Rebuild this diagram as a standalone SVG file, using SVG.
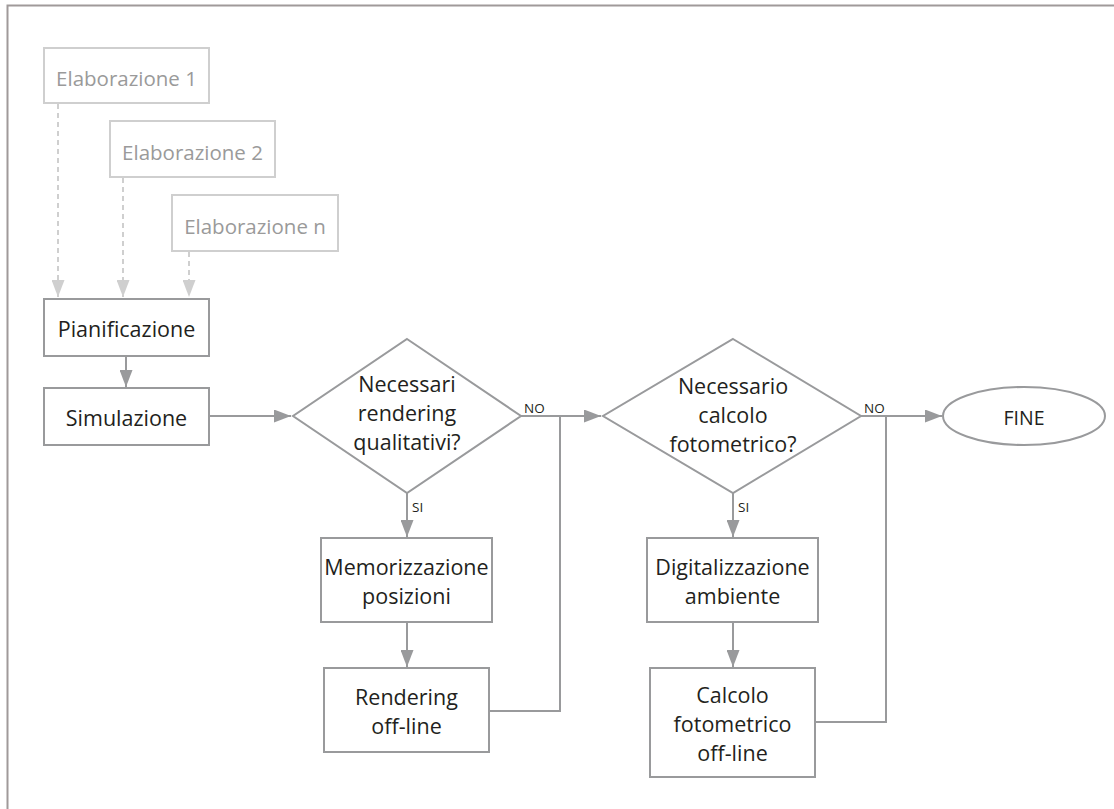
<svg xmlns="http://www.w3.org/2000/svg" width="1114" height="809" viewBox="0 0 1114 809">
<style>
.box{fill:#fff;stroke:#999a9c;stroke-width:2}
.lbox{fill:#fff;stroke:#cfcfcf;stroke-width:2}
.t{font-family:"Open Sans","Liberation Sans",sans-serif;font-size:21.5px;fill:#231f20;text-anchor:middle}
.lt{font-family:"Open Sans","Liberation Sans",sans-serif;font-size:20.5px;fill:#9a9a9a;text-anchor:middle}
.s{font-family:"Open Sans","Liberation Sans",sans-serif;font-size:13.5px;fill:#231f20}
.c{fill:none;stroke:#999a9c;stroke-width:2}
.d{fill:none;stroke:#cfcfcf;stroke-width:2;stroke-dasharray:5 4}
</style>
<defs>
<marker id="a" markerUnits="userSpaceOnUse" markerWidth="17" markerHeight="13" refX="17" refY="6.5" orient="auto"><path d="M0,0 L17,6.5 L0,13 z" fill="#999a9c"/></marker>
<marker id="la" markerUnits="userSpaceOnUse" markerWidth="17" markerHeight="13" refX="17" refY="6.5" orient="auto"><path d="M0,0 L17,6.5 L0,13 z" fill="#cfcfcf"/></marker>
</defs>
<rect width="1114" height="809" fill="#fff"/>
<path d="M7.5,809 V5.5 H1114" fill="none" stroke="#a09a9a" stroke-width="2"/>
<g id="connectors">
<line class="d" x1="58" y1="104" x2="58" y2="297" marker-end="url(#la)"/>
<line class="d" x1="123" y1="178" x2="123" y2="297" marker-end="url(#la)"/>
<line class="d" x1="189" y1="252" x2="189" y2="297" marker-end="url(#la)"/>
<line class="c" x1="126" y1="356" x2="126" y2="387" marker-end="url(#a)"/>
<line class="c" x1="209" y1="416" x2="291" y2="416" marker-end="url(#a)"/>
<line class="c" x1="521" y1="416" x2="601" y2="416" marker-end="url(#a)"/>
<path class="c" d="M489,711 H560 V416"/>
<line class="c" x1="407" y1="493" x2="407" y2="537" marker-end="url(#a)"/>
<line class="c" x1="407" y1="622" x2="407" y2="667" marker-end="url(#a)"/>
<line class="c" x1="861" y1="416" x2="942" y2="416" marker-end="url(#a)"/>
<path class="c" d="M815,722 H886 V416"/>
<line class="c" x1="733" y1="493" x2="733" y2="537" marker-end="url(#a)"/>
<line class="c" x1="733" y1="622" x2="733" y2="667" marker-end="url(#a)"/>
<text class="s" x="524" y="413">NO</text>
<text class="s" x="864" y="413">NO</text>
<text class="s" x="412" y="512">SI</text>
<text class="s" x="738" y="512">SI</text>
</g>
<g id="elab1"><rect class="lbox" x="44" y="48" width="165" height="55"/><text class="lt" x="126.5" y="86">Elaborazione 1</text></g>
<g id="elab2"><rect class="lbox" x="110" y="121" width="165" height="56"/><text class="lt" x="192.5" y="160">Elaborazione 2</text></g>
<g id="elabn"><rect class="lbox" x="172" y="195" width="166" height="56"/><text class="lt" x="255" y="234">Elaborazione n</text></g>
<g id="pianificazione"><rect class="box" x="44" y="299" width="165" height="57"/><text class="t" x="126.5" y="337">Pianificazione</text></g>
<g id="simulazione"><rect class="box" x="44" y="388" width="165" height="57"/><text class="t" x="126.5" y="426">Simulazione</text></g>
<g id="dec1"><polygon class="box" points="407,339 521,416 407,493 293,416"/>
<text class="t"><tspan x="407" y="392">Necessari</tspan><tspan x="407" y="421">rendering</tspan><tspan x="407" y="450">qualitativi?</tspan></text></g>
<g id="dec2"><polygon class="box" points="733,339 861,416 733,493 603,416"/>
<text class="t"><tspan x="733" y="394">Necessario</tspan><tspan x="733" y="423">calcolo</tspan><tspan x="733" y="452">fotometrico?</tspan></text></g>
<g id="memorizzazione"><rect class="box" x="321" y="538" width="171" height="84"/>
<text class="t"><tspan x="406.5" y="575">Memorizzazione</tspan><tspan x="406.5" y="604">posizioni</tspan></text></g>
<g id="rendering"><rect class="box" x="324" y="668" width="165" height="84"/>
<text class="t"><tspan x="406.5" y="705">Rendering</tspan><tspan x="406.5" y="734">off-line</tspan></text></g>
<g id="digitalizzazione"><rect class="box" x="647" y="538" width="171" height="84"/>
<text class="t"><tspan x="732.5" y="575">Digitalizzazione</tspan><tspan x="732.5" y="604">ambiente</tspan></text></g>
<g id="calcolo"><rect class="box" x="650" y="668" width="165" height="109"/>
<text class="t"><tspan x="732.5" y="703">Calcolo</tspan><tspan x="732.5" y="732">fotometrico</tspan><tspan x="732.5" y="761">off-line</tspan></text></g>
<g id="fine"><ellipse class="box" cx="1024" cy="416" rx="81" ry="29"/><text class="t" x="1024" y="425" style="font-size:19.5px">FINE</text></g>
</svg>
